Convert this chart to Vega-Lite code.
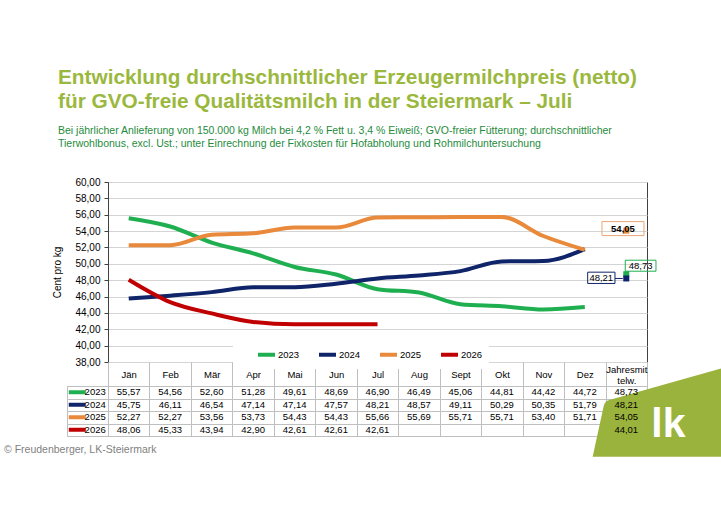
{
  "$schema": "https://vega.github.io/schema/vega-lite/v6.json",
  "background": "white",
  "padding": {"left": 3, "top": 66, "right": 0, "bottom": 0},
  "config": {
    "font": "Liberation Sans",
    "locale": {"number": {"decimal": ",", "thousands": ".", "grouping": [3], "currency": ["", " €"]}},
    "axis": {"labelFont": "Liberation Sans", "titleFont": "Liberation Sans"},
    "legend": {"labelFont": "Liberation Sans"}
  },
  "datasets": {
    "preise": [
      {"Jahr": "2023", "Monat": "Jän", "Wert": 55.57},
      {"Jahr": "2023", "Monat": "Feb", "Wert": 54.56},
      {"Jahr": "2023", "Monat": "Mär", "Wert": 52.60},
      {"Jahr": "2023", "Monat": "Apr", "Wert": 51.28},
      {"Jahr": "2023", "Monat": "Mai", "Wert": 49.61},
      {"Jahr": "2023", "Monat": "Jun", "Wert": 48.69},
      {"Jahr": "2023", "Monat": "Jul", "Wert": 46.90},
      {"Jahr": "2023", "Monat": "Aug", "Wert": 46.49},
      {"Jahr": "2023", "Monat": "Sept", "Wert": 45.06},
      {"Jahr": "2023", "Monat": "Okt", "Wert": 44.81},
      {"Jahr": "2023", "Monat": "Nov", "Wert": 44.42},
      {"Jahr": "2023", "Monat": "Dez", "Wert": 44.72},
      {"Jahr": "2023", "Monat": "Jahresmittelw.", "Wert": 48.73},
      {"Jahr": "2024", "Monat": "Jän", "Wert": 45.75},
      {"Jahr": "2024", "Monat": "Feb", "Wert": 46.11},
      {"Jahr": "2024", "Monat": "Mär", "Wert": 46.54},
      {"Jahr": "2024", "Monat": "Apr", "Wert": 47.14},
      {"Jahr": "2024", "Monat": "Mai", "Wert": 47.14},
      {"Jahr": "2024", "Monat": "Jun", "Wert": 47.57},
      {"Jahr": "2024", "Monat": "Jul", "Wert": 48.21},
      {"Jahr": "2024", "Monat": "Aug", "Wert": 48.57},
      {"Jahr": "2024", "Monat": "Sept", "Wert": 49.11},
      {"Jahr": "2024", "Monat": "Okt", "Wert": 50.29},
      {"Jahr": "2024", "Monat": "Nov", "Wert": 50.35},
      {"Jahr": "2024", "Monat": "Dez", "Wert": 51.79},
      {"Jahr": "2024", "Monat": "Jahresmittelw.", "Wert": 48.21},
      {"Jahr": "2025", "Monat": "Jän", "Wert": 52.27},
      {"Jahr": "2025", "Monat": "Feb", "Wert": 52.27},
      {"Jahr": "2025", "Monat": "Mär", "Wert": 53.56},
      {"Jahr": "2025", "Monat": "Apr", "Wert": 53.73},
      {"Jahr": "2025", "Monat": "Mai", "Wert": 54.43},
      {"Jahr": "2025", "Monat": "Jun", "Wert": 54.43},
      {"Jahr": "2025", "Monat": "Jul", "Wert": 55.66},
      {"Jahr": "2025", "Monat": "Aug", "Wert": 55.69},
      {"Jahr": "2025", "Monat": "Sept", "Wert": 55.71},
      {"Jahr": "2025", "Monat": "Okt", "Wert": 55.71},
      {"Jahr": "2025", "Monat": "Nov", "Wert": 53.40},
      {"Jahr": "2025", "Monat": "Dez", "Wert": 51.71},
      {"Jahr": "2025", "Monat": "Jahresmittelw.", "Wert": 54.05},
      {"Jahr": "2026", "Monat": "Jän", "Wert": 48.06},
      {"Jahr": "2026", "Monat": "Feb", "Wert": 45.33},
      {"Jahr": "2026", "Monat": "Mär", "Wert": 43.94},
      {"Jahr": "2026", "Monat": "Apr", "Wert": 42.90},
      {"Jahr": "2026", "Monat": "Mai", "Wert": 42.61},
      {"Jahr": "2026", "Monat": "Jun", "Wert": 42.61},
      {"Jahr": "2026", "Monat": "Jul", "Wert": 42.61},
      {"Jahr": "2026", "Monat": "Jahresmittelw.", "Wert": 44.01}
    ]
  },
  "columns": 2,
  "bounds": "flush",
  "spacing": {"row": 24, "column": 0},
  "concat": [
    {
      "width": 41,
      "height": 180,
      "view": {"stroke": null},
      "data": {"values": []},
      "mark": "text",
      "encoding": {}
    },
    {
      "width": 539,
      "height": 180,
      "view": {"stroke": "#404040", "strokeWidth": 1},
      "title": {
        "text": ["Entwicklung durchschnittlicher Erzeugermilchpreis (netto)", "für GVO-freie Qualitätsmilch in der Steiermark – Juli"],
        "subtitle": ["Bei jährlicher Anlieferung von 150.000 kg Milch bei 4,2 % Fett u. 3,4 % Eiweiß; GVO-freier Fütterung; durchschnittlicher", "Tierwohlbonus, excl. Ust.; unter Einrechnung der Fixkosten für Hofabholung und Rohmilchuntersuchung"],
        "anchor": "start",
        "frame": "group",
        "dx": -50,
        "offset": 27,
        "fontSize": 20.8,
        "fontWeight": "bold",
        "color": "#9BB83E",
        "lineHeight": 24,
        "subtitleFontSize": 10.5,
        "subtitleColor": "#1E8B3C",
        "subtitleLineHeight": 13,
        "subtitlePadding": 13
      },
      "data": {"name": "preise"},
      "encoding": {
        "x": {
          "field": "Monat",
          "type": "ordinal",
          "scale": {"type": "point", "domain": ["Jän", "Feb", "Mär", "Apr", "Mai", "Jun", "Jul", "Aug", "Sept", "Okt", "Nov", "Dez", "Jahresmittelw."], "padding": 0.5},
          "axis": null
        },
        "y": {
          "field": "Wert",
          "type": "quantitative",
          "scale": {"domain": [38, 60], "nice": false, "zero": false},
          "axis": {
            "values": [38, 40, 42, 44, 46, 48, 50, 52, 54, 56, 58, 60],
            "format": ".2f",
            "title": "Cent pro kg",
            "grid": true,
            "gridColor": "#D4D4D4",
            "domainColor": "#404040",
            "tickColor": "#404040",
            "tickSize": 4,
            "labelPadding": 4,
            "labelFontSize": 10,
            "labelColor": "#000000",
            "titleFontSize": 10,
            "titleFontWeight": "normal",
            "titleColor": "#000000",
            "titlePadding": 12
          }
        }
      },
      "layer": [
        {
          "transform": [{"filter": "datum.Monat !== 'Jahresmittelw.'"}],
          "mark": {"type": "line", "strokeWidth": 4, "interpolate": "monotone"},
          "encoding": {
            "color": {
              "field": "Jahr",
              "type": "nominal",
              "scale": {"domain": ["2023", "2024", "2025", "2026"], "range": ["#1FAF50", "#10246A", "#E9893B", "#C00000"]},
              "legend": {
                "orient": "none",
                "legendX": 166,
                "legendY": 156,
                "direction": "horizontal",
                "title": null,
                "symbolType": "stroke",
                "symbolStrokeWidth": 4,
                "symbolSize": 289,
                "symbolOffset": 17,
                "labelFontSize": 9.5,
                "labelColor": "#000000",
                "labelOffset": 1,
                "columnPadding": -3,
                "fillColor": "white",
                "padding": 6
              }
            }
          }
        },
        {
          "transform": [{"filter": "datum.Monat === 'Jahresmittelw.' && datum.Jahr !== '2026'"}],
          "mark": {"type": "point", "shape": "square", "filled": true, "size": 36, "opacity": 1},
          "encoding": {"color": {"field": "Jahr", "type": "nominal"}}
        },
        {
          "transform": [{"filter": "datum.Monat === 'Jahresmittelw.' && datum.Jahr === '2025'"}],
          "layer": [
            {"mark": {"type": "point", "shape": "M-24.3,-9.1 L17.7,-9.1 L17.7,4.9 L-24.3,4.9 Z", "size": 4, "filled": false, "stroke": "#EDA774", "strokeWidth": 1, "opacity": 1}},
            {"mark": {"type": "text", "fontSize": 9.5, "fontWeight": "bold", "color": "#000000", "dx": -3.3, "dy": -2}, "encoding": {"text": {"field": "Wert", "type": "quantitative", "format": ".2f"}}}
          ]
        },
        {
          "transform": [{"filter": "datum.Monat === 'Jahresmittelw.' && datum.Jahr === '2023'"}],
          "layer": [
            {"mark": {"type": "point", "shape": "M-1,-14 L29.7,-14 L29.7,-3 L-1,-3 Z", "size": 4, "filled": false, "stroke": "#1FAF50", "strokeWidth": 1, "opacity": 1}},
            {"mark": {"type": "text", "fontSize": 9.5, "color": "#000000", "dx": 14.3, "dy": -8.6}, "encoding": {"text": {"field": "Wert", "type": "quantitative", "format": ".2f"}}}
          ]
        },
        {
          "transform": [{"filter": "datum.Monat === 'Jahresmittelw.' && datum.Jahr === '2024'"}],
          "layer": [
            {"mark": {"type": "point", "shape": "M-38.6,-6.3 L-11.3,-6.3 L-11.3,5 L-38.6,5 Z M-11.3,0 L-3.5,0", "size": 4, "filled": false, "stroke": "#10246A", "strokeWidth": 1, "opacity": 1}},
            {"mark": {"type": "text", "fontSize": 9.5, "color": "#000000", "dx": -25, "dy": -0.6}, "encoding": {"text": {"field": "Wert", "type": "quantitative", "format": ".2f"}}}
          ]
        }
      ]
    },
    {
      "width": 41,
      "height": 50,
      "view": {"stroke": "#BFBFBF"},
      "title": {
        "text": "© Freudenberger, LK-Steiermark",
        "orient": "bottom",
        "anchor": "start",
        "frame": "group",
        "dx": -63,
        "offset": 7,
        "fontSize": 10.5,
        "fontWeight": "normal",
        "color": "#7F7F7F"
      },
      "data": {"name": "preise"},
      "transform": [{"filter": "datum.Monat === 'Jän'"}],
      "encoding": {
        "y": {
          "field": "Jahr",
          "type": "nominal",
          "scale": {"type": "band", "domain": ["2023", "2024", "2025", "2026"], "paddingInner": 0, "paddingOuter": 0},
          "axis": {"title": null, "labels": false, "ticks": false, "domain": false, "grid": true, "tickBand": "extent", "gridColor": "#BFBFBF"}
        }
      },
      "layer": [
        {
          "mark": {"type": "point", "shape": "stroke", "strokeWidth": 4, "size": 289, "filled": false, "opacity": 1},
          "encoding": {
            "x": {"datum": "Symbol", "type": "nominal", "scale": {"type": "band", "domain": ["Symbol", "Beschriftung"], "paddingInner": 0, "paddingOuter": 0}, "axis": null},
            "color": {
              "field": "Jahr",
              "type": "nominal",
              "scale": {"domain": ["2023", "2024", "2025", "2026"], "range": ["#1FAF50", "#10246A", "#E9893B", "#C00000"]},
              "legend": null
            }
          }
        },
        {
          "mark": {"type": "text", "fontSize": 9.5, "align": "right", "dx": 8, "color": "#000000"},
          "encoding": {
            "x": {"datum": "Beschriftung", "type": "nominal"},
            "text": {"field": "Jahr", "type": "nominal"}
          }
        }
      ]
    },
    {
      "width": 539,
      "height": 50,
      "view": {"stroke": "#BFBFBF"},
      "data": {"name": "preise"},
      "encoding": {
        "x": {
          "field": "Monat",
          "type": "nominal",
          "scale": {"type": "band", "domain": ["Jän", "Feb", "Mär", "Apr", "Mai", "Jun", "Jul", "Aug", "Sept", "Okt", "Nov", "Dez", "Jahresmittelw."], "paddingInner": 0, "paddingOuter": 0},
          "axis": {
            "orient": "top",
            "title": null,
            "tickBand": "extent",
            "tickSize": 24,
            "tickColor": "#BFBFBF",
            "domainColor": "#BFBFBF",
            "grid": true,
            "gridColor": "#BFBFBF",
            "labelAngle": 0,
            "labelPadding": {"condition": {"test": "datum.value === 'Jahresmittelw.'", "value": -7.5}, "value": -12},
            "labelBaseline": "middle",
            "labelFontSize": 9.5,
            "labelColor": "#000000",
            "labelLineHeight": 11,
            "labelExpr": "datum.value === 'Jahresmittelw.' ? ['Jahresmit', 'telw.'] : datum.value"
          }
        },
        "y": {
          "field": "Jahr",
          "type": "nominal",
          "scale": {"type": "band", "domain": ["2023", "2024", "2025", "2026"], "paddingInner": 0, "paddingOuter": 0},
          "axis": {"title": null, "labels": false, "ticks": false, "domain": false, "grid": true, "tickBand": "extent", "gridColor": "#BFBFBF"}
        }
      },
      "layer": [
        {
          "data": {"values": [{"Marke": "lk"}]},
          "mark": {"type": "point", "shape": "M-33.6,27 L-22.5,-24 Q-21.5,-28.5 -17,-29.8 L95.7,-61.5 L95.7,27 Z", "size": 4, "filled": true, "color": "#9AB33C", "opacity": 1},
          "encoding": {"x": {"datum": "Jahresmittelw.", "type": "nominal"}, "y": {"datum": "2026", "type": "nominal"}}
        },
        {
          "data": {"values": [{"Marke": "lk"}]},
          "mark": {"type": "text", "fontSize": 41, "fontWeight": "bold", "color": "white", "align": "left", "baseline": "alphabetic", "dx": 25, "dy": 7},
          "encoding": {"x": {"datum": "Jahresmittelw.", "type": "nominal"}, "y": {"datum": "2026", "type": "nominal"}, "text": {"field": "Marke", "type": "nominal"}}
        },
        {
          "mark": {"type": "text", "fontSize": 9.5, "color": "#000000"},
          "encoding": {"text": {"field": "Wert", "type": "quantitative", "format": ".2f"}}
        }
      ]
    }
  ]
}
